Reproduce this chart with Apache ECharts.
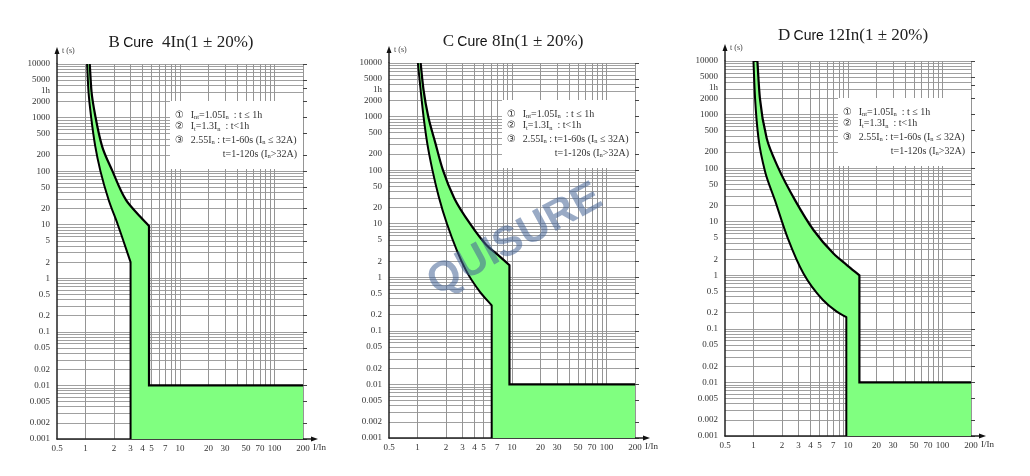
<!DOCTYPE html>
<html><head><meta charset="utf-8">
<script src="https://cdn.jsdelivr.net/npm/echarts@6/dist/echarts.min.js"></script>
<style>html,body{margin:0;padding:0;background:#fff}#c{width:1030px;height:476px}</style>
</head><body><div id="c"></div>
<script>
// ---------- data ----------
const xTickLabels = [0.5, 1, 2, 3, 4, 5, 7, 10, 20, 30, 50, 70, 100, 200];
const yTickLabels = [0.001, 0.002, 0.005, 0.01, 0.02, 0.05, 0.1, 0.2, 0.5, 1, 2, 5, 10, 20, 50, 100, 200, 500, 1000, 2000, 3600, 5000, 10000];
const xGridValues = [1, 2, 3, 4, 5, 6, 7, 8, 9, 10, 20, 30, 40, 50, 60, 70, 80, 90, 100, 200];
const yGridValues = [
  0.001, 0.002, 0.003, 0.004, 0.005, 0.006, 0.007, 0.008, 0.009,
  0.01, 0.02, 0.03, 0.04, 0.05, 0.06, 0.07, 0.08, 0.09,
  0.1, 0.2, 0.3, 0.4, 0.5, 0.6, 0.7, 0.8, 0.9,
  1, 2, 3, 4, 5, 6, 7, 8, 9,
  10, 20, 30, 40, 50, 60, 70, 80, 90,
  100, 200, 300, 400, 500, 600, 700, 800, 900,
  1000, 2000, 3000, 4000, 5000, 6000, 7000, 8000, 9000, 10000
];
const xRange = [0.5, 200];
const yRange = [0.001, 10000];
const instantTime = 0.01;   // magnetic trip time (s)

// [I/In, t(s)] — lower (non-trip) and upper (trip) limits
const bLower = [[1.04, 10000], [1.08, 2840], [1.15, 1000], [1.27, 290], [1.44, 100], [1.76, 29], [2.2, 10], [3.0, 2.0]];
const bUpper = [[1.11, 10000], [1.16, 3000], [1.28, 1000], [1.50, 290], [1.93, 100], [2.68, 29], [3.55, 16], [4.7, 9.5]];
const cLower = [[1.01, 10000], [1.08, 3130], [1.16, 1000], [1.27, 316], [1.44, 100], [1.68, 32], [2.05, 10], [3.25, 1.36], [4.6, 0.53], [6.1, 0.30]];
const cUpper = [[1.08, 10000], [1.16, 3130], [1.30, 1000], [1.55, 316], [1.86, 100], [2.45, 30], [3.6, 10], [5.3, 4.1], [7.5, 2.4], [9.4, 1.68]];
const dLower = [[1.0, 10000], [1.04, 2010], [1.13, 360], [1.33, 85], [1.69, 25], [2.3, 5.0], [3.38, 1.08], [5.4, 0.35], [7.6, 0.21], [9.6, 0.165]];
const dUpper = [[1.10, 10000], [1.17, 2010], [1.38, 360], [1.84, 99], [2.76, 25], [4.31, 7.0], [7.02, 2.55], [9.72, 1.55], [13.2, 1.0]];

const titles = [['B', 'Cure', '  4In(1 ± 20%)'], ['C', 'Cure', ' 8In(1 ± 20%)'], ['D', 'Cure', ' 12In(1 ± 20%)']];
const noteLines = [
  '{c|①}  {t|I}{s|nt}{t|=1.05I}{s|n}{t|  : t ≤ 1h}',
  '{c|②}  {t|I}{s|t}{t|=1.3I}{s|n}{t|  : t<1h}',
  '{c|③}  {t|2.55I}{s|n}{t| : t=1-60s (I}{s|n}{t| ≤ 32A)}',
  '{t|t=1-120s (I}{s|n}{t|>32A)}'
];
const watermark = 'QUISURE';

// ---------- layout ----------
const W = 246, H = 375;
const panels = [
  { gl: 57,  gt: 64, tx: 181, ty: 43, lower: bLower, upper: bUpper, cap: false },
  { gl: 389, gt: 63, tx: 513, ty: 42, lower: cLower, upper: cUpper, cap: false },
  { gl: 725, gt: 61, tx: 853, ty: 36, lower: dLower, upper: dUpper, cap: true }
];
const FONT = '"Liberation Serif", "DejaVu Serif", serif';

// monotone cubic (x as a function of pixel y) -> bezier segments
function segs(P) {
  const n = P.length, h = [], s = [], m = [];
  for (let i = 0; i < n - 1; i++) { h[i] = P[i + 1][1] - P[i][1]; s[i] = (P[i + 1][0] - P[i][0]) / h[i]; }
  m[0] = s[0]; m[n - 1] = s[n - 2];
  for (let i = 1; i < n - 1; i++) {
    if (s[i - 1] * s[i] <= 0) m[i] = 0;
    else m[i] = 3 * (h[i - 1] + h[i]) / ((2 * h[i] + h[i - 1]) / s[i - 1] + (h[i] + 2 * h[i - 1]) / s[i]);
  }
  const out = [];
  for (let i = 0; i < n - 1; i++) {
    const p0 = P[i], p1 = P[i + 1], hh = h[i];
    out.push([p0, [p0[0] + m[i] * hh / 3, p0[1] + hh / 3], [p1[0] - m[i + 1] * hh / 3, p1[1] - hh / 3], p1]);
  }
  return out;
}
const pt = p => ' ' + p[0].toFixed(2) + ',' + p[1].toFixed(2);
const fwd = S => S.map(g => ' C' + pt(g[1]) + pt(g[2]) + pt(g[3])).join('');
const bwd = S => S.slice().reverse().map(g => ' C' + pt(g[2]) + pt(g[1]) + pt(g[0])).join('');

function makeRender(lower, upper, cap) {
  return function (params, api) {
    const L = lower.map(p => api.coord(p));
    const U = upper.map(p => api.coord(p));
    const SL = segs(L), SU = segs(U);
    const lastL = lower[lower.length - 1], lastU = upper[upper.length - 1];
    const pLB = api.coord([lastL[0], yRange[0]]);
    const pRB = api.coord([xRange[1], yRange[0]]);
    const pRI = api.coord([xRange[1], instantTime]);
    const pUI = api.coord([lastU[0], instantTime]);
    const Ul = U[U.length - 1];
    const fillD = 'M' + pt(L[0]) + fwd(SL) + ' L' + pt(pLB) + ' L' + pt(pRB) + ' L' + pt(pRI) +
      ' L' + pt(pUI) + ' L' + pt(Ul) + bwd(SU) + ' Z';
    const leftD = 'M' + pt(L[0]) + fwd(SL) + ' L' + pt(pLB);
    const rightD = 'M' + pt(U[0]) + fwd(SU) + ' L' + pt(pUI) + ' L' + pt(pRI);
    const children = [
      { type: 'path', shape: { pathData: fillD }, style: { fill: '#80ff80', stroke: null } },
      { type: 'path', shape: { pathData: leftD }, style: { fill: null, stroke: '#000', lineWidth: 2 } },
      { type: 'path', shape: { pathData: rightD }, style: { fill: null, stroke: '#000', lineWidth: 2.2 } }
    ];
    if (cap) children.push({ type: 'path', shape: { pathData: 'M' + pt(L[0]) + ' L' + pt(U[0]) }, style: { fill: null, stroke: '#000', lineWidth: 2 } });
    return { type: 'group', children };
  };
}

const grid = [], xAxis = [], yAxis = [], series = [], graphic = [];
const fmt = v => (v === 3600 ? '{h|1h}' : String(v));

panels.forEach((p, i) => {
  grid.push({ left: p.gl, top: p.gt, width: W, height: H, containLabel: false });
  xAxis.push({
    gridIndex: i, type: 'log', logBase: 10, min: xRange[0], max: xRange[1],
    axisLine: { show: true, lineStyle: { color: '#222', width: 1.5 } },
    axisTick: { show: false, customValues: xGridValues },
    splitLine: { show: true, lineStyle: { color: '#959595', width: 1 } },
    axisLabel: { customValues: xTickLabels, formatter: fmt, fontFamily: FONT, fontSize: 9, color: '#333', margin: 5 }
  });
  yAxis.push({
    gridIndex: i, type: 'log', logBase: 10, min: yRange[0], max: yRange[1],
    axisLine: { show: true, lineStyle: { color: '#222', width: 1.5 } },
    axisTick: { show: false, customValues: yGridValues },
    splitLine: { show: true, lineStyle: { color: '#a0a0a0', width: 1 } },
    axisLabel: {
      customValues: yTickLabels, formatter: fmt, fontFamily: FONT, fontSize: 9, color: '#333', margin: 7,
      rich: { h: { fontFamily: FONT, fontSize: 9, color: '#333', padding: [5, 0, 0, 0] } }
    }
  });
  yAxis.push({
    gridIndex: i, type: 'log', logBase: 10, min: yRange[0], max: yRange[1],
    axisLine: { show: false },
    axisTick: { show: true, customValues: yTickLabels, length: 4, lineStyle: { color: '#444', width: 1 } },
    splitLine: { show: false },
    axisLabel: { show: false }
  });
  series.push({
    type: 'custom', xAxisIndex: i, yAxisIndex: i * 2, clip: true, silent: true, z: 3,
    data: [[1, 1]],
    renderItem: makeRender(p.lower, p.upper, p.cap)
  });

  const gr = p.gl + W, gb = p.gt + H;
  graphic.push({
    type: 'text', x: p.tx, y: p.ty, z: 20,
    style: {
      text: '{a|' + titles[i][0] + '} {b|' + titles[i][1] + '}{a|' + titles[i][2] + '}',
      align: 'center', verticalAlign: 'middle',
      rich: {
        a: { fontFamily: FONT, fontSize: 17, fill: '#222' },
        b: { fontFamily: '"Liberation Sans", Arial, sans-serif', fontSize: 14, fill: '#111' }
      }
    }
  });
  graphic.push({ type: 'line', z: 20, shape: { x1: p.gl, y1: p.gt, x2: p.gl, y2: p.gt - 13 }, style: { stroke: '#222', lineWidth: 1.5 } });
  graphic.push({ type: 'polygon', z: 20, shape: { points: [[p.gl - 2.5, p.gt - 10], [p.gl + 2.5, p.gt - 10], [p.gl, p.gt - 17]] }, style: { fill: '#111' } });
  graphic.push({ type: 'line', z: 20, shape: { x1: gr, y1: gb, x2: gr + 11, y2: gb }, style: { stroke: '#222', lineWidth: 1.5 } });
  graphic.push({ type: 'polygon', z: 20, shape: { points: [[gr + 8, gb - 2.5], [gr + 8, gb + 2.5], [gr + 15, gb]] }, style: { fill: '#111' } });
  graphic.push({ type: 'text', z: 20, x: p.gl + 5, y: p.gt - 13, style: { text: 't (s)', font: '8px ' + FONT, fill: '#444', verticalAlign: 'middle' } });
  graphic.push({ type: 'text', z: 20, x: gr + 10, y: gb + 9, style: { text: 'I/In', font: '9px ' + FONT, fill: '#333', verticalAlign: 'middle' } });
  const bx = p.gl + 113, by = p.gt + 37, bw = W - 113, bh = 68;
  graphic.push({ type: 'rect', z: 15, shape: { x: bx, y: by, width: bw, height: bh }, style: { fill: '#fff' } });
  const rich = {
    c: { fontFamily: '"DejaVu Sans", "Noto Sans CJK SC", sans-serif', fontSize: 10, fill: '#333' },
    t: { fontFamily: FONT, fontSize: 10, fill: '#333' },
    s: { fontFamily: FONT, fontSize: 6.5, fill: '#333', verticalAlign: 'bottom', padding: [4, 0, 0, 0] }
  };
  const ly = [14, 25.5, 39, 53];
  noteLines.forEach((t, k) => {
    const last = k === noteLines.length - 1;
    graphic.push({
      type: 'text', z: 21, x: last ? bx + bw - 6 : bx + 5, y: by + ly[k],
      style: { text: t, rich, align: last ? 'right' : 'left', verticalAlign: 'middle' }
    });
  });
});

graphic.push({
  type: 'text', z: 30, x: 515, y: 240, rotation: 0.5,
  style: { text: watermark, font: 'bold 42px "Liberation Sans", Arial, sans-serif', fill: 'rgba(70,100,150,0.55)', align: 'center', verticalAlign: 'middle' }
});

const chart = echarts.init(document.getElementById('c'));
chart.setOption({ backgroundColor: '#fff', animation: false, grid, xAxis, yAxis, series, graphic });
</script>
</body></html>
